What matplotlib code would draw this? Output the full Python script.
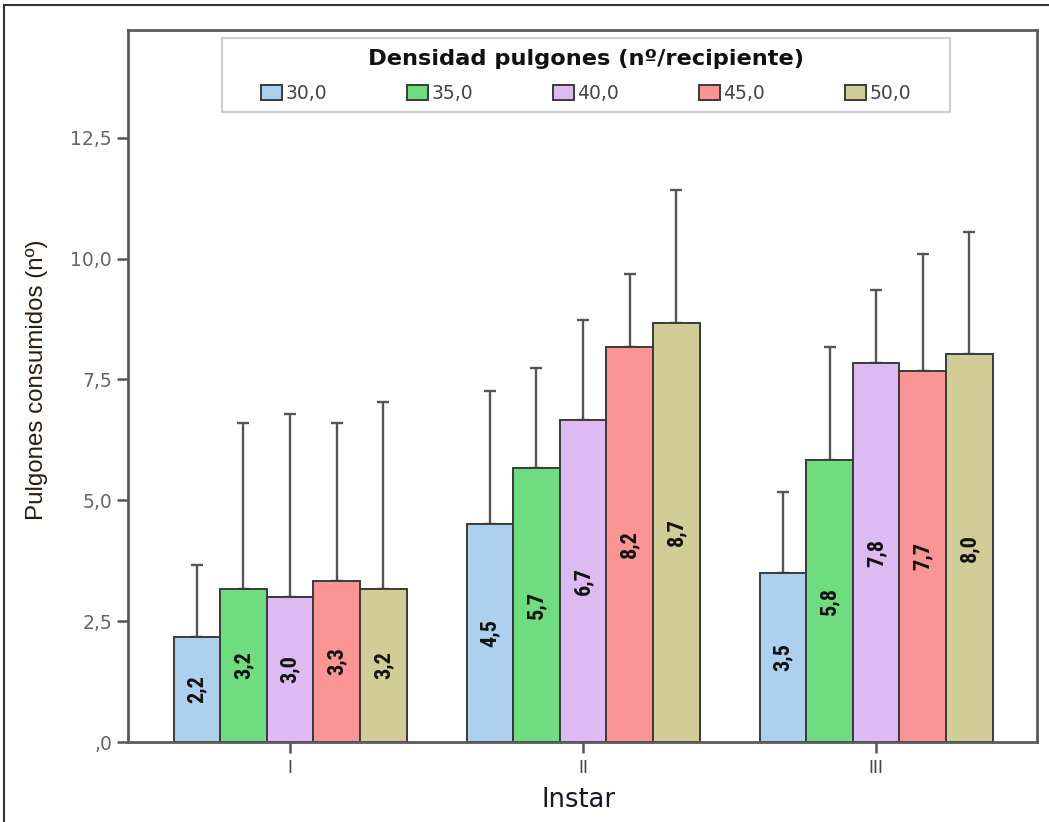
import matplotlib
matplotlib.use("Agg")
import matplotlib.pyplot as plt
import numpy as np
from matplotlib.lines import Line2D
from matplotlib.patches import Rectangle

# ---- data ----
instars = ["I", "II", "III"]
densities = ["30,0", "35,0", "40,0", "45,0", "50,0"]
mean_30 = [2.17, 4.51, 3.50]
mean_35 = [3.17, 5.67, 5.84]
mean_40 = [3.00, 6.66, 7.84]
mean_45 = [3.33, 8.17, 7.68]
mean_50 = [3.17, 8.67, 8.03]
top_30 = [3.66, 7.26, 5.17]
top_35 = [6.60, 7.74, 8.17]
top_40 = [6.79, 8.73, 9.35]
top_45 = [6.60, 9.69, 10.10]
top_50 = [7.04, 11.42, 10.55]
y_ticks = [0, 2.5, 5.0, 7.5, 10.0, 12.5]
y_tick_labels = [",0", "2,5", "5,0", "7,5", "10,0", "12,5"]

means = [mean_30, mean_35, mean_40, mean_45, mean_50]
tops = [top_30, top_35, top_40, top_45, top_50]
colors = ["#ADD0EE", "#6FDC80", "#DEBAF2", "#FB9494", "#D2CD96"]

W, H = 1049, 822
fig = plt.figure(figsize=(W / 100, H / 100), dpi=100)
ax = fig.add_axes([128 / W, 1 - 742 / H, (1037 - 128) / W, (742 - 30) / H])

x = np.arange(len(instars))
bw = 0.159
n = len(densities)
for i in range(n):
    xs = x + (i - (n - 1) / 2) * bw
    m = np.array(means[i])
    t = np.array(tops[i])
    ax.bar(xs, m, width=bw, color=colors[i], edgecolor="#3a3a3a",
           linewidth=1.4, label=densities[i], zorder=2)
    ax.errorbar(xs, m, yerr=[np.zeros_like(m), t - m], fmt="none",
                ecolor="#555555", elinewidth=1.7, capsize=4.5,
                capthick=1.7, zorder=1)
    for xi, mi in zip(xs, m):
        ax.text(xi, mi / 2, f"{mi:.1f}".replace(".", ","), rotation=90,
                ha="center", va="center", fontsize=16, fontweight="bold",
                family=["Roboto Condensed", "Saira Condensed", "DejaVu Sans"],
                color="#111111", zorder=3)

ax.set_xlim(-0.553, 2.549)
ax.set_ylim(0, 14.73)
ax.set_xticks(x)
ax.set_xticklabels(instars, fontsize=13, color="#444444",
                   family=["Liberation Sans", "DejaVu Sans"])
ax.set_yticks(y_ticks)
ax.set_yticklabels(y_tick_labels, fontsize=13.5, color="#666666")
ax.tick_params(axis="both", length=8, width=1.8, color="#555555", direction="out")
ax.tick_params(axis="x", pad=5)
for s in ax.spines.values():
    s.set_color("#5a5a5a")
    s.set_linewidth(2.0)

ax.set_ylabel("Pulgones consumidos (nº)", fontsize=17.4, color="#2a1c10",
              family=["Liberation Sans", "DejaVu Sans"], va="center")
ax.yaxis.set_label_coords((37 - 128) / 909, (742 - 380) / 712)
ax.set_xlabel("Instar", fontsize=18.5, color="#1c1428", va="center")
ax.xaxis.set_label_coords((579 - 128) / 909, (742 - 800) / 712)

leg = ax.legend(title="Densidad pulgones (nº/recipiente)", ncol=5,
                loc="upper left",
                bbox_to_anchor=(261 / W, 1 - 49 / H, (911 - 261) / W, 0.0),
                bbox_transform=fig.transFigure, mode="expand",
                handlelength=1.12, handleheight=0.85, handletextpad=0.2,
                frameon=False, borderpad=0.0, borderaxespad=0.0,
                labelspacing=0.8,
                prop={"family": "DejaVu Sans", "size": 13.5})
leg.set_zorder(6)
leg.get_title().set_fontweight("bold")
leg.get_title().set_fontsize(16.2)
leg.get_title().set_color("#111111")
for t in leg.get_texts():
    t.set_color("#444444")
for p in leg.get_patches():
    p.set_edgecolor("#3a3a3a")
    p.set_linewidth(1.4)

ax.add_patch(Rectangle((222 / W, 1 - 112 / H), 728 / W, 74 / H,
                       transform=fig.transFigure, facecolor="white",
                       edgecolor="#cfcfcf", linewidth=1.6, zorder=5,
                       clip_on=False))

# outer border (top and left)
fig.add_artist(Line2D([4 / W, 1.0], [1 - 5 / H, 1 - 5 / H], transform=fig.transFigure,
                      color="#333333", linewidth=1.5))
fig.add_artist(Line2D([4 / W, 4 / W], [0, 1 - 5 / H], transform=fig.transFigure,
                      color="#333333", linewidth=1.5))

fig.savefig("out.png", dpi=100, facecolor="white")
